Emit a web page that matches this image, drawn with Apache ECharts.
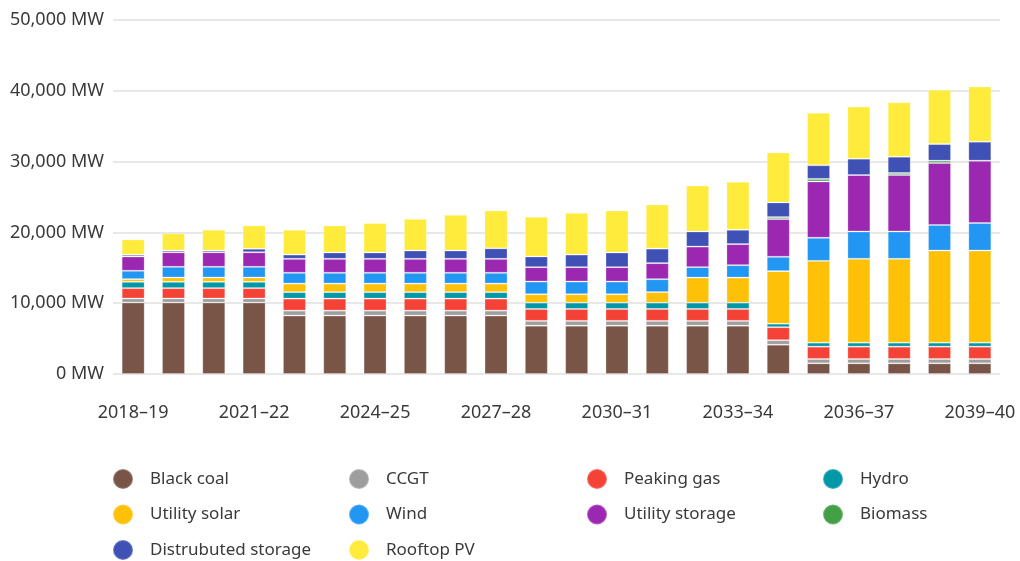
<!doctype html>
<html lang="en">
<head>
  <meta charset="UTF-8">
  <title>Capacity mix</title>
  <script src="https://cdn.jsdelivr.net/npm/echarts/dist/echarts.min.js"></script>
  <style>
    html, body { margin: 0; padding: 0; background: #fff; }
    #chart { width: 1020px; height: 561px; }
  </style>
</head>
<body>
<div id="chart"></div>
<script>
  var years = ['2018–19', '2019–20', '2020–21', '2021–22', '2022–23', '2023–24', '2024–25', '2025–26',
    '2026–27', '2027–28', '2028–29', '2029–30', '2030–31', '2031–32', '2032–33', '2033–34',
    '2034–35', '2035–36', '2036–37', '2037–38', '2038–39', '2039–40'];

  var blackCoal = [10100, 10100, 10100, 10100, 8250, 8250, 8250, 8250, 8250, 8250, 6830,
    6830, 6830, 6830, 6830, 6830, 4140, 1510, 1510, 1510, 1510, 1510];
  var ccgt = [560, 560, 560, 560, 700, 700, 700, 700, 700, 700, 670,
    670, 670, 670, 670, 670, 630, 610, 610, 610, 610, 610];
  var peakingGas = [1470, 1470, 1470, 1470, 1700, 1700, 1700, 1700, 1700, 1700, 1690,
    1690, 1690, 1690, 1690, 1690, 1840, 1740, 1740, 1740, 1740, 1740];
  var hydro = [890, 890, 890, 890, 910, 910, 910, 910, 910, 910, 890,
    890, 890, 890, 890, 890, 500, 570, 570, 570, 570, 570];
  var utilitySolar = [380, 610, 610, 610, 1210, 1210, 1210, 1210, 1210, 1210, 1190,
    1190, 1190, 1490, 3540, 3540, 7420, 11550, 11840, 11840, 13010, 13010];
  var wind = [1180, 1510, 1510, 1510, 1520, 1520, 1520, 1520, 1520, 1520, 1790,
    1790, 1790, 1820, 1470, 1750, 2020, 3260, 3860, 3860, 3610, 3880];
  var utilityStorage = [2020, 2060, 2060, 2060, 1980, 1980, 1980, 1980, 1980, 1980, 2030,
    2030, 2030, 2270, 2910, 2980, 5330, 7960, 7970, 7970, 8750, 8810];
  var biomass = [0, 0, 0, 0, 0, 0, 0, 0, 0, 0, 0,
    0, 0, 0, 0, 0, 280, 350, 0, 290, 330, 0];
  var distStorage = [240, 250, 250, 490, 600, 890, 890, 1170, 1170, 1480, 1510,
    1780, 2070, 2050, 2130, 2020, 2070, 1940, 2310, 2300, 2340, 2680];
  var rooftopPV = [2170, 2410, 2930, 3300, 3500, 3820, 4160, 4480, 5050, 5350, 5610,
    5900, 5940, 6240, 6500, 6790, 7070, 7400, 7360, 7680, 7670, 7790];

  var seriesNames = ['Black coal', 'CCGT', 'Peaking gas', 'Hydro', 'Utility solar', 'Wind',
    'Utility storage', 'Biomass', 'Distrubuted storage', 'Rooftop PV'];
  var seriesData = [blackCoal, ccgt, peakingGas, hydro, utilitySolar, wind,
    utilityStorage, biomass, distStorage, rooftopPV];
  var colors = ['#795548', '#9e9e9e', '#f44336', '#0097a7', '#ffc107', '#2196f3',
    '#9c27b0', '#43a047', '#3f51b5', '#ffeb3b'];

  var fontFamily = 'Noto Sans';
  var textColor = '#3a3a3a';

  // one legend per column so the columns line up like the original
  function makeLegend(left, names) {
    return {
      orient: 'vertical',
      left: left,
      top: 468,
      height: 150,
      padding: 0,
      icon: 'circle',
      itemWidth: 20,
      itemHeight: 20,
      itemGap: 13.5,
      selectedMode: false,
      data: names,
      textStyle: {
        fontFamily: fontFamily,
        fontSize: 17,
        color: textColor,
        padding: [0, 0, 0, 12]
      }
    };
  }

  var chart = echarts.init(document.getElementById('chart'));
  var option = {
    animation: false,
    color: colors,
    grid: {
      left: 113,
      right: 20,
      top: 20,
      bottom: 187
    },
    legend: [
      makeLegend(112, ['Black coal', 'Utility solar', 'Distrubuted storage']),
      makeLegend(348, ['CCGT', 'Wind', 'Rooftop PV']),
      makeLegend(586, ['Peaking gas', 'Utility storage']),
      makeLegend(822, ['Hydro', 'Biomass'])
    ],
    xAxis: {
      type: 'category',
      data: years,
      axisLine: { show: false },
      axisTick: { show: false },
      axisLabel: {
        interval: 2,
        margin: 30,
        fontFamily: fontFamily,
        fontSize: 18,
        color: textColor
      }
    },
    yAxis: {
      type: 'value',
      min: 0,
      max: 50000,
      interval: 10000,
      axisLine: { show: false },
      axisTick: { show: false },
      splitLine: { lineStyle: { color: '#e8e8e8', width: 2 } },
      axisLabel: {
        margin: 9,
        fontFamily: fontFamily,
        fontSize: 18,
        color: textColor,
        formatter: function (v) {
          return v.toLocaleString('en-US') + ' MW';
        }
      }
    },
    series: seriesNames.map(function (name, i) {
      return {
        name: name,
        type: 'bar',
        stack: 'total',
        barWidth: 23,
        data: seriesData[i],
        itemStyle: {
          borderColor: 'rgba(255,255,255,0.25)',
          borderWidth: 1
        }
      };
    })
  };
  chart.setOption(option);
</script>
</body>
</html>
